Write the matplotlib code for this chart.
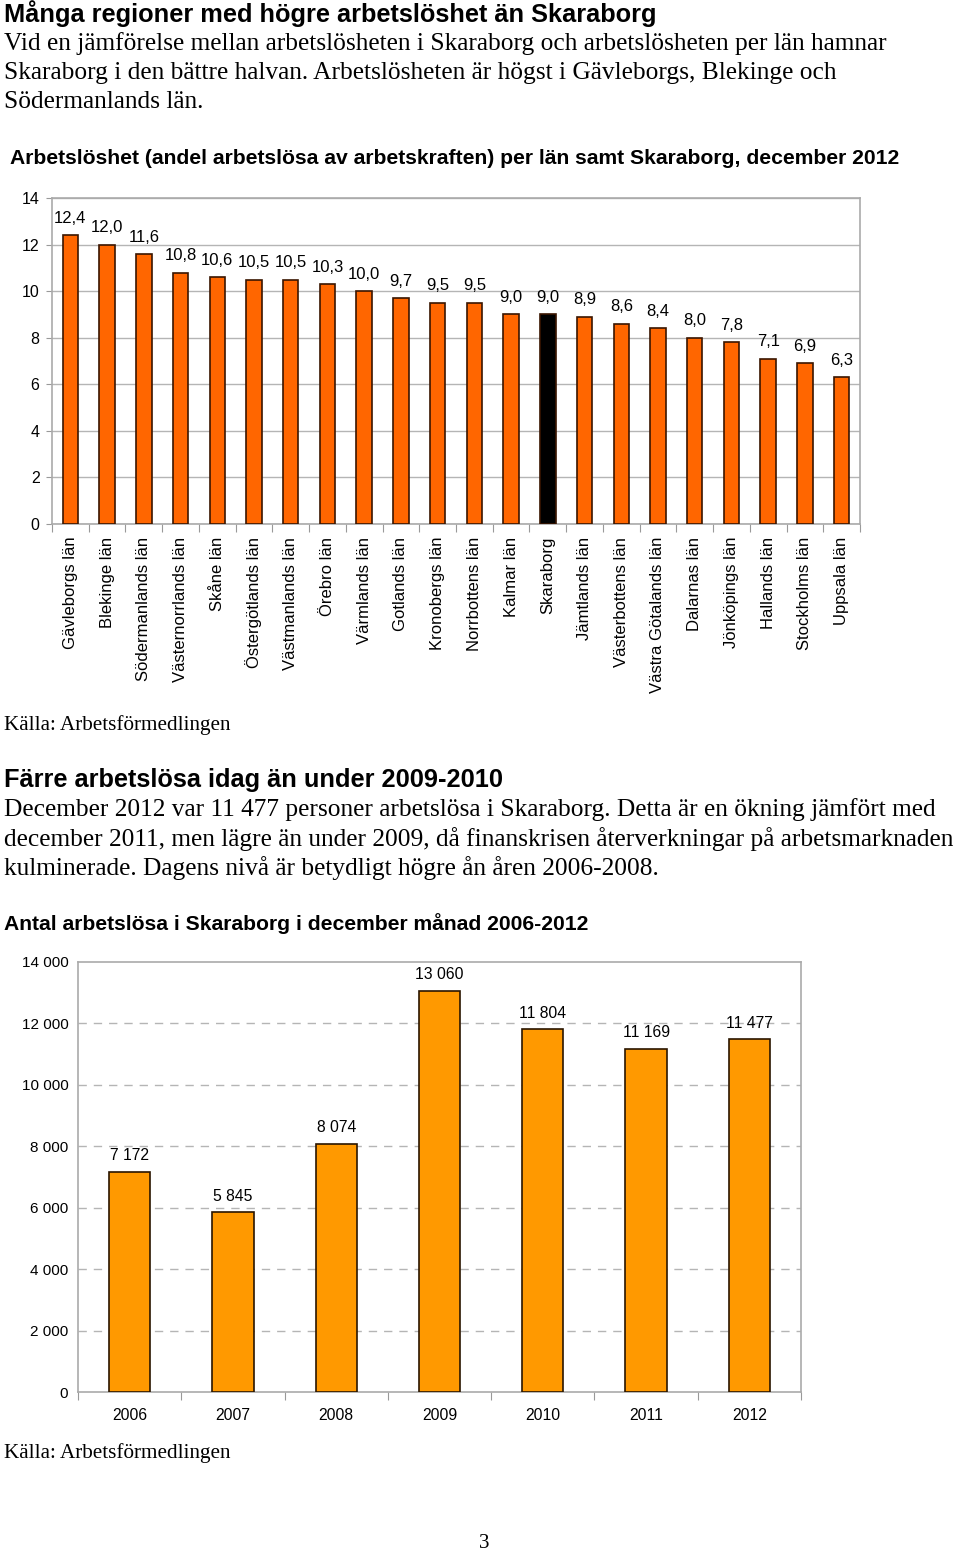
import matplotlib.pyplot as plt
import numpy as np

# data
lan = ['Gävleborgs län', 'Blekinge län', 'Södermanlands län', 'Västernorrlands län',
       'Skåne län', 'Östergötlands län', 'Västmanlands län', 'Örebro län',
       'Värmlands län', 'Gotlands län', 'Kronobergs län', 'Norrbottens län',
       'Kalmar län', 'Skaraborg', 'Jämtlands län', 'Västerbottens län',
       'Västra Götalands län', 'Dalarnas län', 'Jönköpings län', 'Hallands län',
       'Stockholms län', 'Uppsala län']
andel = [12.4, 12.0, 11.6, 10.8, 10.6, 10.5, 10.5, 10.3, 10.0, 9.7, 9.5, 9.5,
         9.0, 9.0, 8.9, 8.6, 8.4, 8.0, 7.8, 7.1, 6.9, 6.3]
ar = ['2006', '2007', '2008', '2009', '2010', '2011', '2012']
antal = [7172, 5845, 8074, 13060, 11804, 11169, 11477]

W, H = 960, 1554
plt.rcParams['font.family'] = ['Liberation Sans', 'DejaVu Sans']
fig = plt.figure(figsize=(W / 100, H / 100), dpi=100)

def txt(x, y, s, **kw):
    fig.text(x / W, 1 - y / H, s, va='center', ha=kw.pop('ha', 'left'), **kw)

serif = ['Liberation Serif', 'DejaVu Serif']

# text block 1
txt(4, 14, 'Många regioner med högre arbetslöshet än Skaraborg', fontsize=18.3, fontweight='bold')
txt(4, 44, 'Vid en jämförelse mellan arbetslösheten i Skaraborg och arbetslösheten per län hamnar',
    fontsize=18.3, family=serif)
txt(4, 73, 'Skaraborg i den bättre halvan. Arbetslösheten är högst i Gävleborgs, Blekinge och',
    fontsize=18.3, family=serif)
txt(4, 102, 'Södermanlands län.', fontsize=18.3, family=serif)
txt(10, 158, 'Arbetslöshet (andel arbetslösa av arbetskraften) per län samt Skaraborg, december 2012',
    fontsize=15.2, fontweight='bold')

# chart 1
ax1 = fig.add_axes([52 / W, 1 - 524 / H, (860 - 52) / W, (524 - 198) / H])
x = np.arange(len(lan))
colors = ['black' if n == 'Skaraborg' else '#ff6600' for n in lan]
ax1.bar(x, andel, width=0.42, color=colors, edgecolor='#3a1500', linewidth=1.2, zorder=3)
for xi, v in zip(x, andel):
    ax1.text(xi, v + 0.4, f'{v:.1f}'.replace('.', ','), ha='center', va='bottom', fontsize=12)
ax1.set_xlim(-0.5, len(lan) - 0.5)
ax1.set_ylim(0, 14)
ax1.set_yticks(range(0, 15, 2))
ax1.tick_params(axis='y', labelsize=11.5, length=4, color='#999999', pad=5)
ax1.grid(axis='y', color='#b5b5b5', linewidth=1, zorder=0)
ax1.set_xticks(np.arange(-0.5, len(lan), 1))
ax1.set_xticklabels([])
ax1.tick_params(axis='x', length=6, color='#999999')
for xi, n in zip(x, lan):
    ax1.text(xi, -0.55, n, rotation=90, ha='center', va='top', fontsize=12)
for s in ax1.spines.values():
    s.set_color('#aaaaaa')
    s.set_linewidth(1.2)

txt(4, 725, 'Källa: Arbetsförmedlingen', fontsize=15.2, family=serif)

# text block 2
txt(4, 780, 'Färre arbetslösa idag än under 2009-2010', fontsize=18.3, fontweight='bold')
txt(4, 810, 'December 2012 var 11 477 personer arbetslösa i Skaraborg. Detta är en ökning jämfört med',
    fontsize=18.3, family=serif)
txt(4, 839, 'december 2011, men lägre än under 2009, då finanskrisen återverkningar på arbetsmarknaden',
    fontsize=18.3, family=serif)
txt(4, 868, 'kulminerade. Dagens nivå är betydligt högre ån åren 2006-2008.', fontsize=18.3, family=serif)
txt(4, 924, 'Antal arbetslösa i Skaraborg i december månad 2006-2012', fontsize=15.2, fontweight='bold')

# chart 2
ax2 = fig.add_axes([78 / W, 1 - 1392 / H, (801 - 78) / W, (1392 - 962) / H])
x2 = np.arange(len(ar))
ax2.bar(x2, antal, width=0.4, color='#ff9900', edgecolor='#2a1500', linewidth=1.2, zorder=3)
for xi, v in zip(x2, antal):
    ax2.text(xi, v + 280, f'{v:,}'.replace(',', ' '), ha='center', va='bottom', fontsize=11.3)
ax2.set_xlim(-0.5, len(ar) - 0.5)
ax2.set_ylim(0, 14000)
ax2.set_yticks(range(0, 14001, 2000))
ax2.set_yticklabels([f'{v:,}'.replace(',', ' ') for v in range(0, 14001, 2000)])
ax2.tick_params(axis='y', labelsize=11, length=0, pad=7)
for v in range(2000, 14000, 2000):
    ax2.axhline(v, color='#b5b5b5', linewidth=1, linestyle=(0, (6, 5)), zorder=0)
ax2.set_xticks(np.arange(-0.5, len(ar), 1))
ax2.set_xticklabels([])
ax2.tick_params(axis='x', length=6, color='#999999')
for xi, n in zip(x2, ar):
    ax2.text(xi, -760, n, ha='center', va='center', fontsize=11.3)
for s in ax2.spines.values():
    s.set_color('#aaaaaa')
    s.set_linewidth(1.2)

txt(4, 1453, 'Källa: Arbetsförmedlingen', fontsize=15.2, family=serif)
txt(484, 1543, '3', fontsize=15.2, family=serif, ha='center')

fig.savefig('out.png', dpi=100)
